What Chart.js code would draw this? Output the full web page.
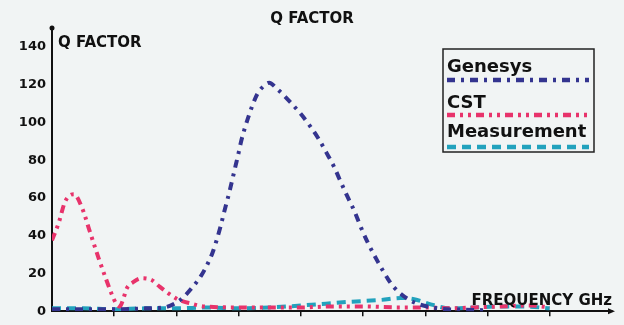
<!DOCTYPE html>
<html>
<head>
<meta charset="utf-8">
<script src="https://cdn.jsdelivr.net/npm/chart.js@4.4.1/dist/chart.umd.min.js"></script>
<style>
  html, body { margin: 0; padding: 0; background: #f1f4f4; }
  #wrap { width: 624px; height: 325px; position: relative; }
</style>
</head>
<body>
<div id="wrap"><canvas id="c"></canvas></div>
<script>
// Q factor versus frequency (GHz) for three data sources
const genesysFreq = [0, 0.5, 1.0, 1.5, 1.8, 1.97, 2.10, 2.24, 2.40, 2.50, 2.58, 2.64, 2.71, 2.77, 2.85, 2.90, 2.95, 3.00, 3.04, 3.09, 3.21, 3.30, 3.41, 3.49, 3.61, 3.85, 4.01, 4.17, 4.29, 4.41, 4.54, 4.62, 4.73, 4.86, 4.97, 5.08, 5.24, 5.40, 5.50, 5.77, 6.20, 6.60, 7.00];
const genesysQ    = [1, 1, 1, 1.5, 2, 4, 7, 12, 19, 25, 31, 37, 45, 53, 63, 70, 77, 84, 90, 96, 108, 115, 119.5, 121, 118, 110, 104, 97, 91, 84, 76, 70, 62, 53, 44, 36, 26, 17, 12.5, 5.5, 1.5, 0.8, 0.5];

const cstFreq = [0, 0.11, 0.21, 0.35, 0.48, 0.61, 0.75, 0.88, 0.96, 1.04, 1.09, 1.15, 1.20, 1.31, 1.44, 1.60, 1.73, 1.89, 2.04, 2.24, 2.45, 3.0, 3.5, 4.0, 4.5, 5.0, 5.6, 6.0, 6.4, 6.8, 7.2, 7.7, 8.0];
const cstQ    = [37.5, 47, 58, 62, 55, 42, 28, 16, 9, 3.5, 2.5, 7, 12, 15.5, 17.5, 16.5, 13, 9, 6, 4, 2.5, 2, 2, 2, 2.5, 2.5, 2, 2, 1.5, 2, 2.5, 3, 2];

const measFreq = [0, 0.5, 1.0, 1.5, 2.0, 2.5, 3.0, 3.5, 4.0, 4.4, 4.8, 5.3, 5.6, 5.8, 6.1, 6.4, 6.8, 7.2, 7.6, 8.0];
const measQ    = [1.5, 1.5, 1, 1.5, 1.5, 2, 1.5, 2, 3, 4, 5, 6, 7, 6.5, 3.5, 1.5, 2, 2.5, 2.5, 1.5];

const yTicks = [0, 20, 40, 60, 80, 100, 120, 140];
const xTicks = [1, 2, 3, 4, 5, 6, 7, 8];

const seriesNames = ['Genesys', 'CST', 'Measurement'];
const chartTitle = 'Q FACTOR';
const yTitle = 'Q FACTOR';
const xTitle = 'FREQUENCY GHz';

const pts = (xs, ys) => xs.map((x, i) => ({ x, y: ys[i] }));

const NAVY = '#34348f';
const PINK = '#e8336b';
const TEAL = '#22a2bd';
const INK = '#111111';
const FONT = '"DejaVu Sans", sans-serif';

const datasets = [
  { label: seriesNames[0], data: pts(genesysFreq, genesysQ), borderColor: NAVY, borderWidth: 4, borderDash: [8, 6, 3, 6] },
  { label: seriesNames[1], data: pts(cstFreq, cstQ), borderColor: PINK, borderWidth: 4, borderDash: [8, 5, 3, 5, 3, 5] },
  { label: seriesNames[2], data: pts(measFreq, measQ), borderColor: TEAL, borderWidth: 4, borderDash: [9, 6] }
].map(d => Object.assign(d, { fill: false, pointRadius: 0, cubicInterpolationMode: 'monotone' }));

// Paint the page-coloured background behind everything
const backdrop = {
  id: 'backdrop',
  beforeDraw(chart) {
    const ctx = chart.ctx;
    ctx.save();
    ctx.fillStyle = '#f1f4f4';
    ctx.fillRect(0, 0, chart.width, chart.height);
    ctx.restore();
  }
};

// Axis arrows, titles and the boxed legend
const decor = {
  id: 'decor',
  afterDraw(chart) {
    const ctx = chart.ctx;
    const a = chart.chartArea;
    ctx.save();

    // arrow tips
    ctx.fillStyle = INK;
    ctx.beginPath();
    ctx.arc(a.left, a.top, 2.5, 0, Math.PI * 2);
    ctx.fill();
    ctx.beginPath();
    ctx.moveTo(a.right + 3, a.bottom);
    ctx.lineTo(a.right - 4, a.bottom - 3);
    ctx.lineTo(a.right - 4, a.bottom + 3);
    ctx.closePath();
    ctx.fill();

    // titles
    ctx.fillStyle = INK;
    ctx.textBaseline = 'alphabetic';
    ctx.font = 'bold 15px ' + FONT;
    ctx.textAlign = 'center';
    ctx.fillText(chartTitle, chart.width / 2, 23);
    ctx.textAlign = 'left';
    ctx.fillText(yTitle, a.left + 6, a.top + 19);
    ctx.textAlign = 'right';
    ctx.fillText(xTitle, a.right, a.bottom - 6);

    // legend box
    const bx = 443, by = 49, bw = 151, bh = 103;
    ctx.strokeStyle = '#222';
    ctx.lineWidth = 1.5;
    ctx.strokeRect(bx, by, bw, bh);
    const rows = [{ base: 72, line: 80 }, { base: 108, line: 115 }, { base: 137, line: 147 }];
    ctx.textAlign = 'left';
    ctx.font = 'bold 18px ' + FONT;
    chart.data.datasets.forEach((ds, i) => {
      const r = rows[i];
      ctx.fillStyle = INK;
      ctx.fillText(ds.label, bx + 4, r.base);
      ctx.strokeStyle = ds.borderColor;
      ctx.lineWidth = ds.borderWidth + 0.5;
      ctx.setLineDash(ds.borderDash);
      ctx.beginPath();
      ctx.moveTo(bx + 4, r.line);
      ctx.lineTo(bx + bw - 5, r.line);
      ctx.stroke();
      ctx.setLineDash([]);
    });
    ctx.restore();
  }
};

new Chart(document.getElementById('c'), {
  type: 'line',
  data: { datasets },
  plugins: [backdrop, decor],
  options: {
    responsive: true,
    maintainAspectRatio: false,
    animation: false,
    layout: { padding: { top: 28, right: 12, left: 0, bottom: 0 } },
    plugins: { legend: { display: false }, title: { display: false }, tooltip: { enabled: false } },
    scales: {
      x: {
        type: 'linear',
        min: 0,
        max: 9,
        afterBuildTicks(s) { s.ticks = xTicks.map(v => ({ value: v })); },
        afterFit(s) { s.height = 5; },
        ticks: { display: false },
        grid: { display: true, drawOnChartArea: false, drawTicks: true, tickLength: 5, color: INK, lineWidth: 1.5 },
        border: { display: true, color: INK, width: 2 }
      },
      y: {
        min: 0,
        max: 150,
        afterBuildTicks(s) { s.ticks = yTicks.map(v => ({ value: v })); },
        afterFit(s) { s.width = 52; },
        ticks: { color: INK, padding: 6, font: { family: FONT, size: 13, weight: 'bold' } },
        grid: { display: false, drawTicks: false },
        border: { display: true, color: INK, width: 2 }
      }
    }
  }
});
</script>
</body>
</html>
